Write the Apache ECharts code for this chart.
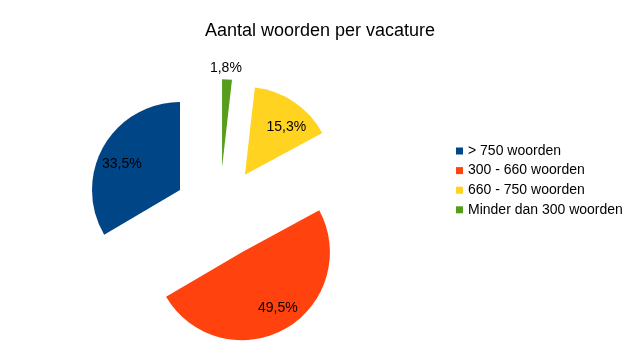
<!DOCTYPE html>
<html>
<head>
<meta charset="utf-8">
<script src="https://cdn.jsdelivr.net/npm/echarts@6/dist/echarts.min.js"></script>
<style>html,body{margin:0;padding:0;background:#fff;}#c{width:640px;height:360px;}</style>
</head>
<body>
<div id="c"></div>
<script>
const categories = ['> 750 woorden', '300 - 660 woorden', '660 - 750 woorden', 'Minder dan 300 woorden'];
const values = [33.5, 49.5, 15.3, 1.8];
const colors = ['#004586', '#ff420e', '#ffd320', '#579d1c'];

const fmt = v => v.toFixed(1).replace('.', ',') + '%';
const CENTER = [219.5, 212.6];
const OFFSET = 45.5;
const FONT = 'Liberation Sans, Arial, sans-serif';

// label placement style: radius of the helper ring and a small nudge per slice
const labelRing = [128, 128, 128, 200];
const nudge = [[0, 7], [3, -2], [4, 8], [-2, 4]];

function mainData() {
  return categories.map((n, i) => ({ name: n, value: values[i], selected: true, itemStyle: { color: colors[i] } }));
}
const common = {
  type: 'pie', startAngle: 90, clockwise: false,
  selectedMode: 'multiple', selectedOffset: OFFSET, avoidLabelOverlap: false,
  animation: false, silent: true, emphasis: { disabled: true }, labelLine: { show: false }
};
const series = [Object.assign({}, common, { center: CENTER, radius: 88, data: mainData(), label: { show: false } })];
categories.forEach((n, k) => {
  series.push(Object.assign({}, common, {
    center: [CENTER[0] + nudge[k][0], CENTER[1] + nudge[k][1]],
    radius: labelRing[k], z: 3,
    data: categories.map((m, i) => ({
      name: m + ' #' + k, value: values[i], selected: true,
      itemStyle: { color: 'rgba(0,0,0,0)' },
      label: { show: i === k }
    })),
    label: {
      position: 'inside', color: '#000', fontSize: 14, fontFamily: FONT,
      textBorderWidth: 0, formatter: p => fmt(p.value)
    }
  }));
});

const chart = echarts.init(document.getElementById('c'), null, { renderer: 'canvas' });
chart.setOption({
  backgroundColor: '#fff',
  title: {
    text: 'Aantal woorden per vacature', left: 'center', top: 17,
    textStyle: { fontSize: 18, fontWeight: 'normal', color: '#000', fontFamily: FONT }
  },
  legend: {
    orient: 'vertical', left: 451, top: 139, itemWidth: 7, itemHeight: 7, itemGap: 5.6,
    icon: 'rect', data: categories,
    textStyle: { fontSize: 14, color: '#000', fontFamily: FONT }
  },
  series: series
});
</script>
</body>
</html>
